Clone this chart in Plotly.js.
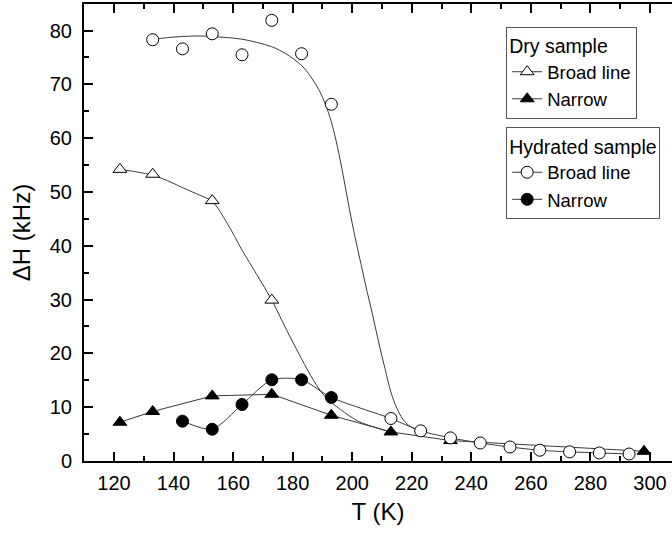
<!DOCTYPE html>
<html>
<head>
<meta charset="utf-8">
<script src="https://cdn.plot.ly/plotly-3.0.1.min.js"></script>
<style>html,body{margin:0;padding:0;background:#fff;}#chart{width:672px;height:539px;}</style>
</head>
<body>
<div id="chart"></div>
<script>
// ---- Data ----
// Dry sample
const dryBroadT = [122, 133, 153, 173];
const dryBroadV = [54.2, 53.3, 48.4, 29.9];
const dryNarrowT = [122, 133, 153, 173, 193, 213, 233, 298];
const dryNarrowV = [7.2, 9.2, 12.1, 12.4, 8.5, 5.4, 3.8, 1.8];
// fitted curve through the dry broad line
const dryBroadFitT = [122, 128, 133, 138, 143, 148, 153, 158, 163, 168, 173, 178, 183, 187, 191, 196, 202, 208, 213];
const dryBroadFitV = [54.2, 53.7, 53.1, 52.1, 50.8, 49.6, 48.2, 44.2, 39.2, 34.6, 29.9, 24.3, 19.0, 15.0, 11.9, 9.6, 7.4, 6.2, 5.4];

// Hydrated sample
const hydBroadT = [133, 143, 153, 163, 173, 183, 193, 213, 223, 233, 243, 253, 263, 273, 283, 293];
const hydBroadV = [78.3, 76.6, 79.4, 75.5, 81.9, 75.7, 66.3, 7.9, 5.6, 4.3, 3.35, 2.6, 2.0, 1.7, 1.5, 1.3];
const hydNarrowT = [143, 153, 163, 173, 183, 193];
const hydNarrowV = [7.4, 5.9, 10.5, 15.1, 15.1, 11.8];
// high-temperature points shared by the hydrated lines (under the open circles)
const hydTailT = [213, 223, 233, 243, 253, 263, 273, 283, 293];
const hydTailV = [7.9, 5.6, 4.3, 3.35, 2.6, 2.0, 1.7, 1.5, 1.3];
// fitted curve through the hydrated broad line
const hydBroadFitT = [133, 138, 143, 148, 153, 158, 163, 168, 173, 178, 183, 186, 189, 191, 193, 195, 197, 199, 201, 203, 205, 207, 209, 211, 213, 215, 217, 219, 221, 223];
const hydBroadFitV = [78.3, 78.7, 78.9, 79.0, 78.9, 78.7, 78.4, 77.8, 77.0, 75.6, 73.5, 71.5, 68.8, 66.3, 63.0, 58.5, 53.0, 47.0, 41.5, 36.5, 31.5, 26.8, 21.8, 17.2, 12.8, 9.8, 7.8, 6.6, 6.0, 5.6];

// Tick labels
const xTicks = [120, 140, 160, 180, 200, 220, 240, 260, 280, 300];
const yTicks = [0, 10, 20, 30, 40, 50, 60, 70, 80];

// ---- helpers ----
// separate every point by a gap so the legend shows a line but the plot shows none
function isolated(arr) { const out = []; arr.forEach((v, i) => { if (i) out.push(null); out.push(v); }); return out; }

const LINE = '#3a3a3a';
const FONT = 'Liberation Sans, Arial, sans-serif';

const traces = [
  // lines (no legend)
  {x: dryBroadFitT, y: dryBroadFitV, mode: 'lines', line: {color: LINE, width: 1, shape: 'spline'}, showlegend: false, hoverinfo: 'skip'},
  {x: dryNarrowT, y: dryNarrowV, mode: 'lines', line: {color: LINE, width: 1}, showlegend: false, hoverinfo: 'skip'},
  {x: hydBroadFitT, y: hydBroadFitV, mode: 'lines', line: {color: LINE, width: 1, shape: 'spline'}, showlegend: false, hoverinfo: 'skip'},
  {x: hydNarrowT.concat(hydTailT), y: hydNarrowV.concat(hydTailV), mode: 'lines', line: {color: LINE, width: 1, shape: 'spline', smoothing: 0.7}, showlegend: false, hoverinfo: 'skip'},
  // markers (legend entries)
  {x: isolated(dryBroadT), y: isolated(dryBroadV), name: 'Broad line', mode: 'lines+markers', connectgaps: false,
   line: {color: LINE, width: 1}, marker: {symbol: 'triangle-up', size: 12, color: '#fff', line: {color: '#000', width: 1}}, legend: 'legend'},
  {x: isolated(dryNarrowT), y: isolated(dryNarrowV), name: 'Narrow', mode: 'lines+markers', connectgaps: false,
   line: {color: LINE, width: 1}, marker: {symbol: 'triangle-up', size: 12, color: '#000', line: {color: '#000', width: 1}}, legend: 'legend'},
  {x: isolated(hydBroadT), y: isolated(hydBroadV), name: 'Broad line', mode: 'lines+markers', connectgaps: false,
   line: {color: LINE, width: 1}, marker: {symbol: 'circle', size: 12, color: '#fff', line: {color: '#000', width: 1}}, legend: 'legend2'},
  {x: isolated(hydNarrowT), y: isolated(hydNarrowV), name: 'Narrow', mode: 'lines+markers', connectgaps: false,
   line: {color: LINE, width: 1}, marker: {symbol: 'circle', size: 12, color: '#000', line: {color: '#000', width: 1}}, legend: 'legend2'}
];

const axisCommon = {
  showline: true, linecolor: '#000', linewidth: 2,
  ticks: 'inside', ticklen: 9, tickwidth: 2, tickcolor: '#000',
  showgrid: false, zeroline: false,
  tickfont: {family: FONT, size: 20, color: '#000'}
};

const legendCommon = {
  xanchor: 'left', yanchor: 'top', bgcolor: '#fff', bordercolor: '#555', borderwidth: 1,
  font: {family: FONT, size: 18.5, color: '#000'}, tracegroupgap: 0, itemwidth: 30
};

const layout = {
  width: 672, height: 539,
  margin: {l: 84, r: 0, t: 4, b: 78, pad: 0},
  paper_bgcolor: '#fff', plot_bgcolor: '#fff',
  font: {family: FONT, color: '#000'},
  xaxis: Object.assign({}, axisCommon, {
    range: [109.93, 307.4], tickvals: xTicks, ticktext: xTicks.map(String), mirror: 'ticks',
    minor: {dtick: 10, ticks: 'inside', ticklen: 5, tickwidth: 2, tickcolor: '#000'},
    ticklabelstandoff: 3,
    title: {text: 'T (K)', font: {family: FONT, size: 24, color: '#000'}, standoff: 10}
  }),
  yaxis: Object.assign({}, axisCommon, {
    range: [0, 84.94], tickvals: yTicks, ticktext: yTicks.map(String),
    minor: {dtick: 5, ticks: 'inside', ticklen: 5, tickwidth: 2, tickcolor: '#000'},
    ticklabelstandoff: 6,
    title: {text: 'ΔH (kHz)', font: {family: FONT, size: 24, color: '#000'}, standoff: 12}
  }),
  legend: Object.assign({}, legendCommon, {x: 0.718, y: 0.95, title: {text: 'Dry sample', font: {family: FONT, size: 19.5, color: '#000'}}}),
  legend2: Object.assign({}, legendCommon, {x: 0.718, y: 0.73, title: {text: 'Hydrated sample', font: {family: FONT, size: 19.5, color: '#000'}}}),
  showlegend: true
};

Plotly.newPlot('chart', traces, layout, {displayModeBar: false, staticPlot: true});
</script>
</body>
</html>
